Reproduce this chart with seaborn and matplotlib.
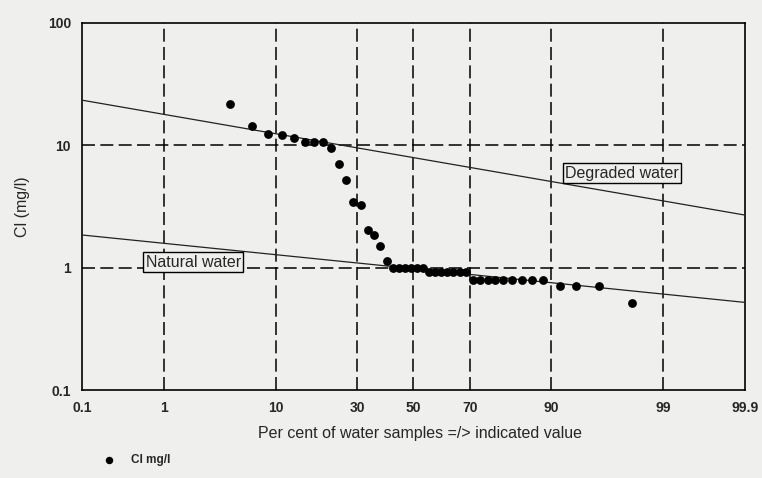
import numpy as np
import matplotlib
matplotlib.use('Agg')
import matplotlib.pyplot as plt
import seaborn as sns
from statistics import NormalDist

# Data: per cent of samples >= value, Cl in mg/l
percent = [4.4, 6.6, 8.8, 11.0, 13.3, 15.5, 17.7, 19.9, 22.2, 24.4, 26.6,
           28.7, 31.1, 33.5, 35.6, 37.9, 40.3,
           42.5, 44.7, 46.9, 49.1, 51.3, 53.5,
           55.7, 57.9, 60.1, 62.3, 64.5, 66.7, 68.9,
           71.1, 73.3, 75.5, 77.7, 79.9, 82.1, 84.3, 86.5, 88.7,
           91.4, 93.5, 95.8, 97.9]
cl_mg_l = [21.8, 14.5, 12.4, 12.1, 11.5, 10.6, 10.6, 10.6, 9.45, 7.1, 5.2,
           3.46, 3.25, 2.03, 1.85, 1.51, 1.13,
           1.0, 1.0, 1.0, 1.0, 1.0, 1.0,
           0.93, 0.93, 0.93, 0.93, 0.93, 0.93, 0.93,
           0.80, 0.80, 0.80, 0.80, 0.80, 0.80, 0.80, 0.80, 0.80,
           0.71, 0.71, 0.71, 0.51]

# limit lines (end points)
line_x = [0.1, 99.9]
degraded_y = [23.4, 2.69]
natural_y = [1.85, 0.52]

x_ticks = [0.1, 1, 10, 30, 50, 70, 90, 99, 99.9]
x_ticklabels = ['0.1', '1', '10', '30', '50', '70', '90', '99', '99.9']
y_ticks = [0.1, 1, 10, 100]
y_ticklabels = ['0.1', '1', '10', '100']

bg = '#efefed'

sns.set_style('white')
plt.rcParams['font.family'] = ['Liberation Sans', 'DejaVu Sans']

nd = NormalDist()
_ppf = np.vectorize(lambda v: nd.inv_cdf(v), otypes=[float])
_cdf = np.vectorize(lambda v: nd.cdf(v), otypes=[float])


def prob_fwd(p):
    p = np.clip(np.asarray(p, dtype=float), 1e-4, 99.9999)
    return _ppf(p / 100.0)


def prob_inv(z):
    z = np.asarray(z, dtype=float)
    return _cdf(z) * 100.0


fig = plt.figure(figsize=(7.62, 4.78), dpi=100, facecolor=bg)
ax = fig.add_axes([0.1076, 0.1841, 0.8701, 0.7678])
ax.set_facecolor(bg)

ax.set_xscale('function', functions=(prob_fwd, prob_inv))
ax.set_yscale('log')

df = {'x': percent, 'y': cl_mg_l}
sns.scatterplot(x='x', y='y', data=df, ax=ax, color='black', s=40,
                edgecolor='black', linewidth=0, label='Cl mg/l', zorder=4)

ax.plot(line_x, degraded_y, color='#222222', lw=0.9, zorder=3)
ax.plot(line_x, natural_y, color='#222222', lw=0.9, zorder=3)

ax.set_xlim(0.1, 99.9)
ax.set_ylim(0.1, 100)
ax.set_xticks(x_ticks)
ax.set_xticklabels(x_ticklabels, fontsize=10, fontweight='bold')
ax.set_yticks(y_ticks)
ax.set_yticklabels(y_ticklabels, fontsize=10, fontweight='bold')
ax.minorticks_off()
ax.tick_params(direction='out', length=4, width=1, color='black', pad=4)

# dashed grid
for xv in x_ticks[1:-1]:
    ax.axvline(xv, color='black', lw=1.1, ls=(0, (8.5, 3.5)), zorder=1)
for yv in y_ticks[1:-1]:
    ax.axhline(yv, color='black', lw=1.1, ls=(0, (8.5, 3.5)), zorder=1)

for sp in ax.spines.values():
    sp.set_color('black')
    sp.set_linewidth(1.2)

ax.set_xlabel('Per cent of water samples =/> indicated value', fontsize=11.5)
ax.xaxis.set_label_coords(0.51, -0.098)
ax.set_ylabel('Cl (mg/l)', fontsize=11.5, labelpad=13)

box = dict(boxstyle='square,pad=0.15', facecolor=bg, edgecolor='black', lw=1)
ax.text(97.4, 5.94, 'Degraded water', fontsize=11.5, ha='center', va='center', bbox=box, zorder=5)
ax.text(2.0, 1.11, 'Natural water', fontsize=11.5, ha='center', va='center', bbox=box, zorder=5)

leg = ax.legend(loc='center left', bbox_to_anchor=(0.113, 0.037), bbox_transform=fig.transFigure,
                frameon=False, fontsize=8.5, handletextpad=0.9, markerscale=0.85)
for t in leg.get_texts():
    t.set_fontweight('bold')

fig.savefig('out.png', dpi=100, facecolor=bg)
